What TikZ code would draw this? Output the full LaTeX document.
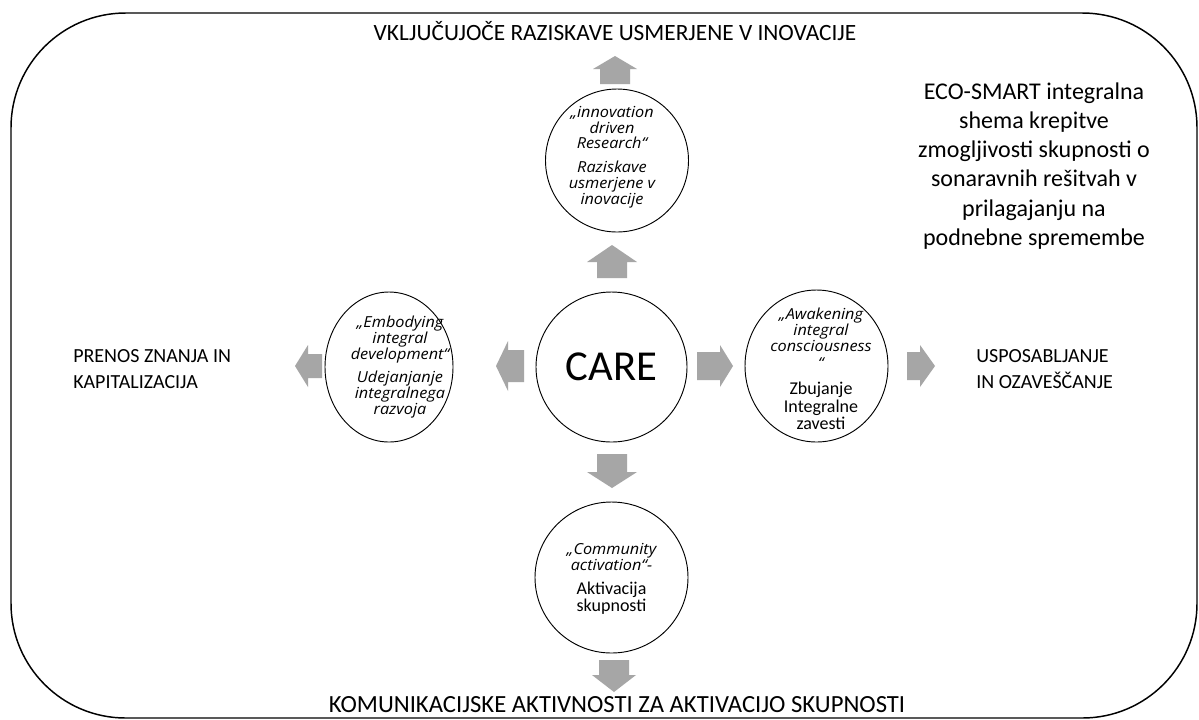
\documentclass[tikz,border=0pt]{standalone}
\usepackage{fontspec}
\setmainfont{Carlito}
\newfontfamily\circfont{Open Sans}[FakeStretch=1.07]
\definecolor{arrowgray}{HTML}{A6A6A6}
\tikzset{
  frame/.style={draw=black, line width=1.1pt, rounded corners=86pt},
  bubble/.style={draw=black, line width=0.7pt, ellipse, inner sep=0pt},
  garrow/.style={fill=arrowgray, draw=none},
  title/.style={font=\fontsize{17.5}{20}\selectfont, inner sep=0pt, anchor=base},
  caps/.style={font=\fontsize{15}{20}\selectfont, inner sep=0pt},
  itext/.style={align=center, inner sep=0pt, font=\circfont\itshape\fontsize{11.4}{11.8}\selectfont},
  utext/.style={align=center, inner sep=0pt, font=\fontsize{13.5}{13}\selectfont}
}
\usetikzlibrary{shapes.geometric}
\newcommand{\uparr}[6]{\fill[garrow] ({#1-#6},#4) -- ({#1-#6},#3) -- ({#1-#5},#3) -- (#1,#2) -- ({#1+#5},#3) -- ({#1+#6},#3) -- ({#1+#6},#4) -- cycle;}
\newcommand{\downarr}[6]{\fill[garrow] ({#1-#6},#2) -- ({#1-#6},#3) -- ({#1-#5},#3) -- (#1,#4) -- ({#1+#5},#3) -- ({#1+#6},#3) -- ({#1+#6},#2) -- cycle;}
\newcommand{\leftarr}[6]{\fill[garrow] (#4,{#1-#6}) -- (#3,{#1-#6}) -- (#3,{#1-#5}) -- (#2,#1) -- (#3,{#1+#5}) -- (#3,{#1+#6}) -- (#4,{#1+#6}) -- cycle;}
\newcommand{\rightarr}[6]{\fill[garrow] (#2,{#1-#6}) -- (#3,{#1-#6}) -- (#3,{#1-#5}) -- (#4,#1) -- (#3,{#1+#5}) -- (#3,{#1+#6}) -- (#2,{#1+#6}) -- cycle;}
\begin{document}
\begin{tikzpicture}[x=0.75pt, y=-0.75pt]
\useasboundingbox (0,0) rectangle (1199,719);
\fill[white] (0,0) rectangle (1199,719);
% outer frame
\draw[frame] (11,13) rectangle (1197,718);

% titles
\node[title] (ttop) at (615,40) {VKLJUČUJOČE RAZISKAVE USMERJENE V INOVACIJE};
\node[title, font=\fontsize{18.5}{20}\selectfont] (tbot) at (617,712) {KOMUNIKACIJSKE AKTIVNOSTI ZA AKTIVACIJO SKUPNOSTI};
\node[caps, align=left, anchor=west] (tleft) at (73,369) {PRENOS ZNANJA IN\\KAPITALIZACIJA};
\node[caps, align=left, anchor=west] (tright) at (976,369) {USPOSABLJANJE\\IN OZAVEŠČANJE};
\node[align=center, inner sep=0pt, font=\fontsize{18}{21.8}\selectfont] (eco) at (1034,166)
  {ECO-SMART integralna\\shema krepitve\\zmogljivosti skupnosti o\\sonaravnih rešitvah v\\prilagajanju na\\podnebne spremembe};

% circles
\node[bubble, minimum width=151*0.75pt, minimum height=150*0.75pt] (care) at (611.5,367) {};
\node[font=\fontsize{32}{36}\selectfont, inner sep=0pt] (caretext) at (care.center) {CARE};

\node[bubble, minimum width=143*0.75pt, minimum height=143*0.75pt] (ctop) at (617,160.5) {};
\node[itext] (ctoptext) at (612,157) {„innovation\\driven\\Research“\\[6pt]Raziskave\\usmerjene v\\inovacije};

\node[bubble, minimum width=128*0.75pt, minimum height=150*0.75pt] (cleft) at (389,367) {};
\node[itext] (clefttext) at (400,367) {„Embodying\\integral\\development“\\[6pt]Udejanjanje\\integralnega\\razvoja};

\node[bubble, minimum width=143*0.75pt, minimum height=152*0.75pt] (cright) at (816.5,366) {};
\node[itext, font=\circfont\itshape\fontsize{11.4}{12.2}\selectfont] (crightit) at (821,338) {„Awakening\\integral\\consciousness\\“};
\node[utext] (crightup) at (821,406) {Zbujanje\\Integralne\\zavesti};

\node[bubble, minimum width=153*0.75pt, minimum height=151*0.75pt] (cbot) at (611.5,577.5) {};
\node[itext] (cbotit) at (611.5,557) {„Community\\activation“-};
\node[utext] (cbotup) at (611.5,598) {Aktivacija\\skupnosti};

% block arrows
\uparr{615}{56}{69}{84}{22}{15}
\uparr{612}{245}{262}{278}{25}{15}
\downarr{612}{454}{472}{488}{25}{15}
\downarr{614}{660}{675}{692}{22}{15}
\leftarr{366}{496}{508}{524}{25}{16}
\leftarr{366}{295}{308}{322}{21}{12}
\rightarr{366}{697}{720}{733}{21}{14}
\rightarr{366}{907}{920}{935}{21}{14}
\end{tikzpicture}
\end{document}
